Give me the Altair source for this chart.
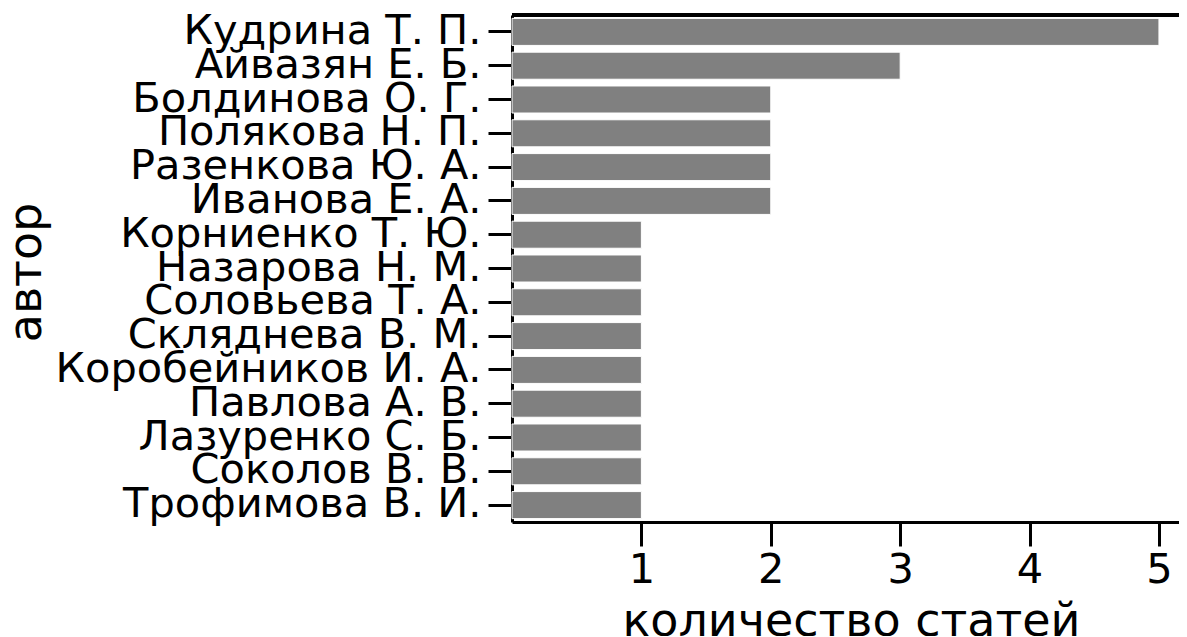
import altair as alt
import pandas as pd

authors = [
    "Кудрина Т. П.", "Айвазян Е. Б.", "Болдинова О. Г.", "Полякова Н. П.",
    "Разенкова Ю. А.", "Иванова Е. А.", "Корниенко Т. Ю.", "Назарова Н. М.",
    "Соловьева Т. А.", "Скляднева В. М.", "Коробейников И. А.", "Павлова А. В.",
    "Лазуренко С. Б.", "Соколов В. В.", "Трофимова В. И.",
]
counts = [5, 3, 2, 2, 2, 2, 1, 1, 1, 1, 1, 1, 1, 1, 1]
x_ticks = [1, 2, 3, 4, 5]

df = pd.DataFrame({"автор": authors, "количество статей": counts})

W, H = 667, 507
FONT = "DejaVu Sans"

bars = alt.Chart(df).mark_bar(color="#808080", stroke="white", strokeWidth=1).encode(
    x=alt.X(
        "количество статей:Q",
        scale=alt.Scale(domain=[0, 5.155], nice=False, zero=True),
        axis=alt.Axis(
            values=x_ticks, format="d", title="количество статей",
            titleX=339, titleY=113, titleAlign="center", titleBaseline="alphabetic",
            titleFontSize=46, labelFontSize=41.5, labelPadding=3,
        ),
    ),
    y=alt.Y(
        "автор:N", sort=authors,
        scale=alt.Scale(paddingInner=0.2, paddingOuter=0.1),
        axis=alt.Axis(
            title="автор", titleAngle=270, titleX=-472, titleY=257,
            titleAlign="center", titleBaseline="alphabetic",
            titleFontSize=46, labelFontSize=41.5, labelPadding=7,
            labelLimit=0, labelOverlap=False,
        ),
    ),
)

top_spine = alt.Chart(df).mark_rule(color="black", strokeWidth=3).encode(
    x=alt.value(0), x2=alt.value(W), y=alt.value(0)
)

chart = alt.layer(bars, top_spine).properties(
    width=W, height=H,
    autosize=alt.AutoSizeParams(type="none"),
    padding={"left": 504, "top": 7, "right": 0, "bottom": 114},
).configure_view(stroke=None).configure_axis(
    domainColor="black", domainWidth=3, tickColor="black", tickWidth=3, tickSize=24,
    grid=False, labelFont=FONT, titleFont=FONT, labelColor="black", titleColor="black",
    titleFontWeight="normal",
)

chart.save("out.html", embed_options={"renderer": "svg", "actions": False})
